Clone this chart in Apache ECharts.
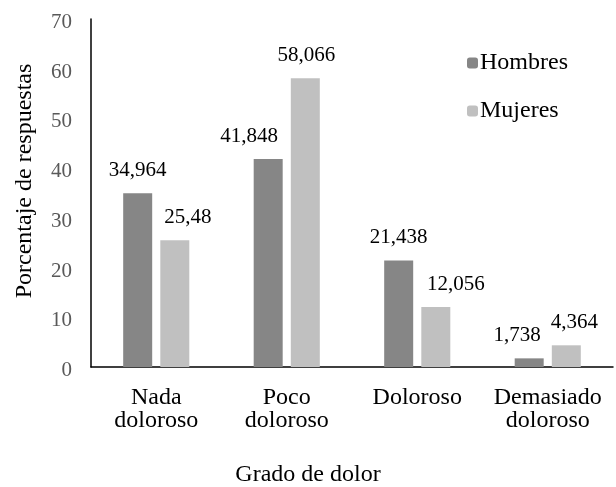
<!DOCTYPE html>
<html><head><meta charset="utf-8">
<script src="https://cdn.jsdelivr.net/npm/echarts@6/dist/echarts.min.js"></script>
<style>html,body{margin:0;padding:0;background:#fff}#c{width:616px;height:487px}</style>
</head><body><div id="c"></div>
<script>
const categories = ['Nada\ndoloroso', 'Poco\ndoloroso', 'Doloroso', 'Demasiado\ndoloroso'];
const hombres = [34.964, 41.848, 21.438, 1.738];
const mujeres = [25.48, 58.066, 12.056, 4.364];
const seriesNames = ['Hombres', 'Mujeres'];
const yTicks = { min: 0, max: 70, interval: 10 };

// label nudges (layout only)
const nudgeH = [0, -19, 0, -12];
const nudgeM = [13, 1, 20, 8];

const font = '"Liberation Serif", "Times New Roman", serif';
const fmt = v => String(v).replace('.', ',');
const chart = echarts.init(document.getElementById('c'));
const labelCfg = {
  show: true, position: 'top', distance: 12,
  fontFamily: font, fontSize: 21, color: '#000',
  formatter: p => fmt(p.value)
};
const withNudge = (vals, nudges) => vals.map((v, i) => ({ value: v, label: { offset: [nudges[i], 0] } }));
chart.setOption({
  animation: false,
  textStyle: { fontFamily: font },
  grid: { left: 91, right: 3, top: 19, bottom: 120, containLabel: false },
  legend: {
    orient: 'vertical', left: 462, top: 46, itemWidth: 11, itemHeight: 11, itemGap: 24,
    textStyle: { fontFamily: font, fontSize: 24, color: '#000', padding: [6, 0, 0, -3] },
    data: seriesNames
  },
  xAxis: {
    type: 'category', data: categories,
    axisLine: { lineStyle: { color: '#000', width: 1.5 } },
    axisTick: { show: false },
    axisLabel: { interval: 0, fontFamily: font, fontSize: 24, color: '#000', lineHeight: 23, margin: 19 }
  },
  yAxis: {
    type: 'value', min: yTicks.min, max: yTicks.max, interval: yTicks.interval,
    axisLine: { show: true, lineStyle: { color: '#000', width: 1.5 } },
    axisTick: { show: false },
    splitLine: { show: false },
    axisLabel: { fontFamily: font, fontSize: 21, color: '#595959', margin: 19,
                 verticalAlign: 'top', lineHeight: 7 }
  },
  graphic: [
    { type: 'text', left: 'center', top: 463,
      style: { text: 'Grado de dolor', font: '24px ' + font, fill: '#000' } },
    { type: 'text', x: 25, y: 181, rotation: Math.PI / 2,
      style: { text: 'Porcentaje de respuestas', font: '24px ' + font, fill: '#000',
               align: 'center', verticalAlign: 'middle' } }
  ],
  series: [
    { name: seriesNames[0], type: 'bar', data: withNudge(hombres, nudgeH), barWidth: 29, barGap: '28%',
      itemStyle: { color: '#868686' }, label: labelCfg },
    { name: seriesNames[1], type: 'bar', data: withNudge(mujeres, nudgeM), barWidth: 29, barGap: '28%',
      itemStyle: { color: '#c0c0c0' }, label: labelCfg }
  ]
});
</script></body></html>
